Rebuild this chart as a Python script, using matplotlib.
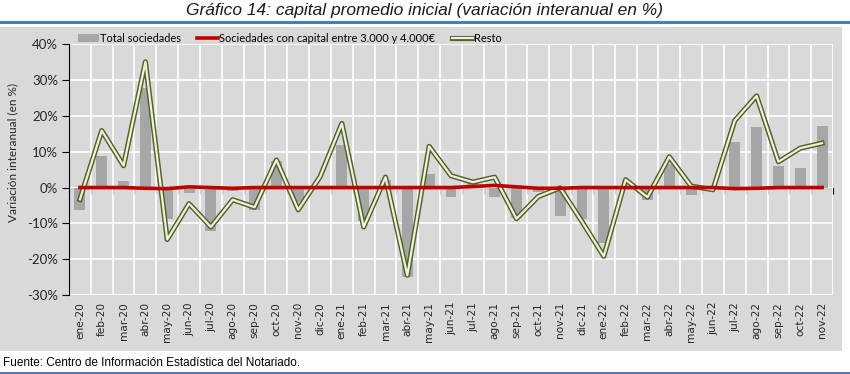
import matplotlib
matplotlib.use("Agg")
import matplotlib.pyplot as plt
import matplotlib.patheffects as pe
from matplotlib.patches import Rectangle
from matplotlib.lines import Line2D
import numpy as np

months = ["ene-20", "feb-20", "mar-20", "abr-20", "may-20", "jun-20", "jul-20", "ago-20", "sep-20",
          "oct-20", "nov-20", "dic-20", "ene-21", "feb-21", "mar-21", "abr-21", "may-21", "jun-21",
          "jul-21", "ago-21", "sep-21", "oct-21", "nov-21", "dic-21", "ene-22", "feb-22", "mar-22",
          "abr-22", "may-22", "jun-22", "jul-22", "ago-22", "sep-22", "oct-22", "nov-22"]

total_sociedades = [-6.3, 8.9, 1.9, 27.8, -8.7, -1.6, -12.0, -1.0, -6.3, 7.3, -4.0, 0.5,
                    11.8, -9.2, 2.1, -25.0, 3.9, -2.5, 1.5, -2.5, -8.5, -1.3, -8.0, -8.7,
                    -15.5, 0.4, -3.6, 6.6, -2.2, -0.5, 12.8, 16.9, 6.1, 5.4, 17.3]

capital_3000_4000 = [0.0, 0.0, 0.0, -0.2, -0.3, 0.2, 0.0, -0.2, 0.0, 0.0, 0.0, 0.0,
                     0.0, 0.0, 0.0, 0.0, 0.0, 0.0, 0.3, 0.6, 0.2, -0.2, -0.2, 0.0,
                     0.0, 0.0, 0.0, 0.0, 0.0, 0.0, -0.3, -0.2, 0.0, 0.0, 0.0]

resto = [-3.3, 15.9, 6.1, 35.1, -14.5, -4.5, -11.0, -3.4, -5.5, 7.7, -6.2, 3.0,
         17.9, -11.0, 2.9, -24.5, 11.5, 3.3, 1.5, 2.9, -8.7, -2.5, -0.1, -9.5,
         -19.2, 2.2, -2.7, 8.6, 0.4, -0.6, 18.7, 25.6, 7.2, 11.0, 12.4]

yticks = [-30, -20, -10, 0, 10, 20, 30, 40]

W, H = 850, 374
fig = plt.figure(figsize=(W / 100, H / 100), dpi=100)
fig.patch.set_facecolor("white")

# gray panel behind chart
fig.patches.append(Rectangle((0, 1 - 351 / H), 842 / W, (351 - 27) / H,
                             transform=fig.transFigure, facecolor="#d9d9d9",
                             edgecolor="none", zorder=-10))
# blue rules
fig.add_artist(Line2D([0, 1], [1 - 21.5 / H] * 2, transform=fig.transFigure,
                      color="#4a7ebb", lw=2.2))
fig.add_artist(Line2D([0, 1], [1 - 372.5 / H] * 2, transform=fig.transFigure,
                      color="#4a7ebb", lw=2.2))

left, right, top, bottom = 69, 833, 44.3, 295
ax = fig.add_axes([left / W, 1 - bottom / H, (right - left) / W, (bottom - top) / H])
ax.set_facecolor("#d9d9d9")
ax.set_zorder(1)

x = np.arange(len(months))
ax.bar(x, total_sociedades, width=0.5, color="#a6a6a6", zorder=2, label="Total sociedades")
ax.plot(x, resto, color="#eef2dc", lw=1.6, zorder=3, label="Resto",
        path_effects=[pe.Stroke(linewidth=3.7, foreground="#4f6228"), pe.Normal()])
ax.plot(x, capital_3000_4000, color="#c00000", lw=2.6, zorder=4,
        label="Sociedades con capital entre 3.000 y 4.000€")

ax.set_xlim(-0.5, len(months) - 0.5)
ax.set_ylim(-30, 40)
ax.set_yticks(yticks)
ax.set_yticklabels([f"{v}%" for v in yticks], family=["Lato", "DejaVu Sans"], fontsize=9.5,
                   color="#262626")
ax.tick_params(axis="y", direction="out", length=5, width=0.8, pad=3)

ax.set_xticks(x)
ax.set_xticklabels(months, rotation=90, fontsize=7.6, family="DejaVu Sans", color="#262626")
ax.tick_params(axis="x", length=0, pad=5)
ax.set_xticks(np.arange(-0.5, len(months), 1), minor=True)
ax.tick_params(axis="x", which="minor", length=0)

ax.grid(True, axis="y", which="major", color="white", lw=1.2, zorder=1)
ax.grid(True, axis="x", which="minor", color="white", lw=1.2, zorder=1)
ax.grid(False, axis="x", which="major")
ax.set_axisbelow(True)

for s in ["top", "right", "bottom"]:
    ax.spines[s].set_visible(False)
ax.spines["left"].set_color("black")
ax.spines["left"].set_linewidth(0.8)

# x axis line at zero with category tick marks
sec = ax.secondary_xaxis(30 / 70)
sec.set_xticks(np.arange(-0.5, len(months), 1))
sec.set_xticklabels([])
sec.tick_params(direction="out", length=4, width=0.8, color="black")
sec.spines["bottom"].set_color("black")
sec.spines["bottom"].set_linewidth(0.8)

# legend
handles, labels = ax.get_legend_handles_labels()
order = [labels.index("Total sociedades"),
         labels.index("Sociedades con capital entre 3.000 y 4.000€"),
         labels.index("Resto")]
leg = fig.legend([handles[i] for i in order], [labels[i] for i in order], ncol=3,
                 loc="center left", bbox_to_anchor=(78 / W, 1 - 38 / H), frameon=False,
                 prop={"family": ["Lato", "DejaVu Sans"], "size": 7.9},
                 handlelength=1.9, handletextpad=0.1, columnspacing=1.5,
                 borderaxespad=0, borderpad=0)
leg.set_zorder(5)

fig.text(13 / W, 1 - 152 / H, "Variación interanual (en %)", rotation=90, ha="center",
         va="center", fontsize=8.5, family=["Lato", "DejaVu Sans"], color="#262626")

fig.text(425 / W, 1 - 11 / H, "Gráfico 14: capital promedio inicial (variación interanual en %)",
         ha="center", va="center", fontsize=12.5, style="italic",
         family=["Liberation Sans Narrow", "Liberation Sans", "DejaVu Sans"], color="#1a1a1a")

fig.text(3 / W, 1 - 363 / H, "Fuente: Centro de Información Estadística del Notariado.",
         ha="left", va="center", fontsize=8.5,
         family=["Liberation Sans Narrow", "Liberation Sans", "DejaVu Sans"], color="black")

fig.savefig("out.png", dpi=100, facecolor=fig.get_facecolor())
